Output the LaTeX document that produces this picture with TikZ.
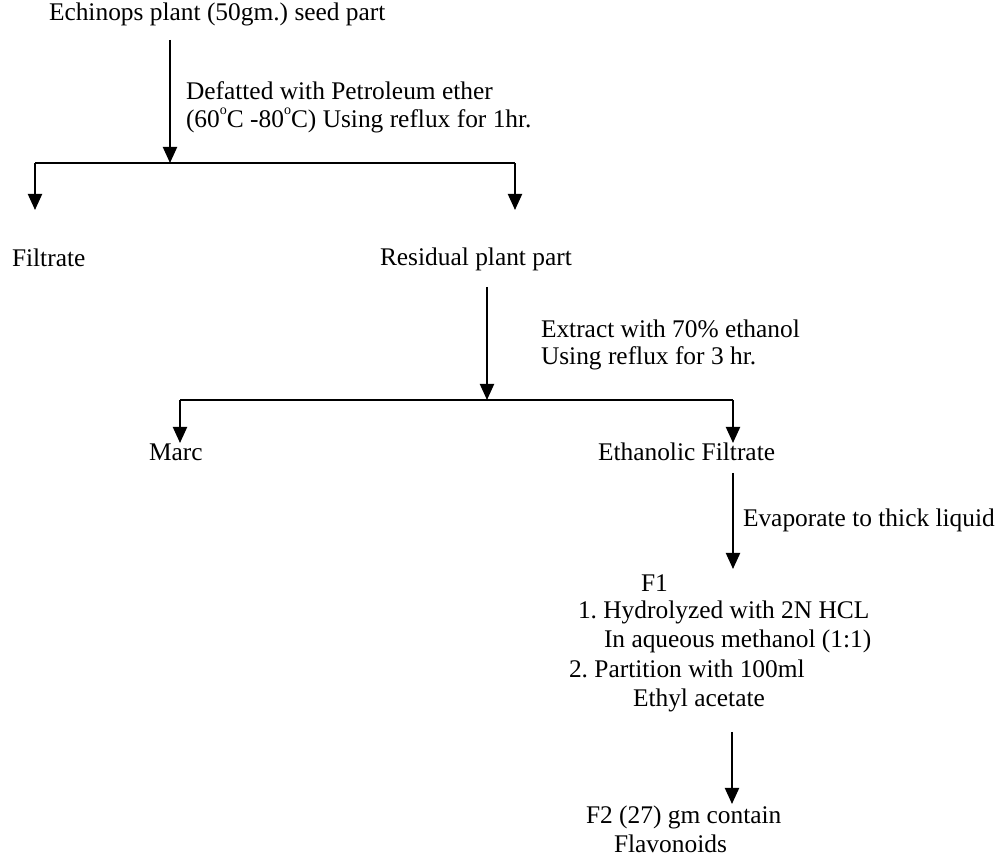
\documentclass[tikz,border=0pt]{standalone}
\usepackage{fontspec}
\setmainfont{Liberation Serif}
\usetikzlibrary{positioning,arrows.meta}
\frenchspacing
\newcommand{\degsign}{\raisebox{1.15ex}{\fontsize{7}{7}\selectfont o}}

\begin{document}
\begin{tikzpicture}[x=0.5pt,y=-0.5pt,line width=1pt,
  every node/.append style={inner sep=0pt,anchor=base west,font=\fontsize{12.7}{14.6}\selectfont},
  flow/.style={-{Triangle[width=7pt,length=8pt]}}]
\useasboundingbox (0,0) rectangle (1008,865);
% texts
\node (seed) at (48,21) {Echinops plant (50gm.) seed part};
\node (defA) at (185,100) {Defatted with Petroleum ether};
\node (defB) at (185,128) {(60\degsign C -80\degsign C) Using reflux for 1hr.};
\node (filt) at (11,267) {Filtrate};
\node (resid) at (379,266) {Residual plant part};
\node (extA) at (540,338) {Extract with 70\% ethanol};
\node (extB) at (540,365) {Using reflux for 3 hr.};
\node (marc) at (148,461) {Marc};
\node (ethf) at (597,461) {Ethanolic Filtrate};
\node (evap) at (742,527) {Evaporate to thick liquid};
\node (fone) at (640,592) {F1};
\node (hyd) at (577,619) {1. Hydrolyzed with 2N HCL};
\node (aqu) at (603,648) {In aqueous methanol (1:1)};
\node (part) at (568,678) {2. Partition with 100ml};
\node (ethyl) at (632,707) {Ethyl acetate};
\node (ftwo) at (585,824) {F2 (27) gm contain};
\node (flav) at (613,853) {Flavonoids};
% arrow ends
\coordinate (s1) at (170,40);
\coordinate (j1) at (170,163);
\coordinate (l1) at (35,163);
\coordinate (r1) at (515,163);
\coordinate (filtTop) at (35,210);
\coordinate (residTop) at (515,210);
\coordinate (s2) at (487,287);
\coordinate (j2) at (487,400);
\coordinate (l2) at (180,400);
\coordinate (r2) at (733,400);
\coordinate (marcTop) at (180,443);
\coordinate (ethfTop) at (733,443);
\coordinate (s3) at (733,473);
\coordinate (foneTop) at (733,569);
\coordinate (s4) at (732,732);
\coordinate (ftwoTop) at (732,804);
% connectors
\draw [flow] (s1) -- (j1);
\draw (l1) -- (r1);
\draw [flow] (l1) -- (filtTop);
\draw [flow] (r1) -- (residTop);
\draw [flow] (s2) -- (j2);
\draw (l2) -- (r2);
\draw [flow] (l2) -- (marcTop);
\draw [flow] (r2) -- (ethfTop);
\draw [flow] (s3) -- (foneTop);
\draw [flow] (s4) -- (ftwoTop);
\end{tikzpicture}
\end{document}
